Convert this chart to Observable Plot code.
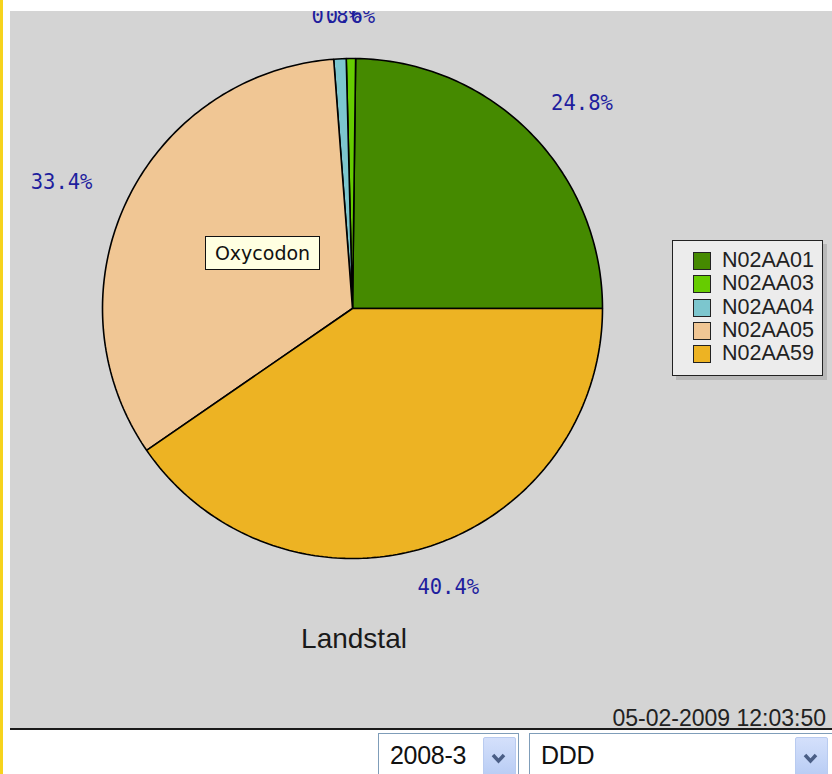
<!DOCTYPE html>
<html><head><meta charset="utf-8">
<script src="https://cdn.jsdelivr.net/npm/d3@7"></script>
<script src="https://cdn.jsdelivr.net/npm/@observablehq/plot@0.6"></script>
<style>
html,body{margin:0;padding:0;background:#fff;width:832px;height:774px;overflow:hidden;font-family:"Liberation Sans",Arial,sans-serif;position:relative;}
#ybar{position:absolute;left:0;top:0;width:3px;height:774px;background:#f6d31c;}
#panel{position:absolute;left:10px;top:11px;width:822px;height:717px;background:#d4d4d4;}
#panel svg{position:absolute;left:0;top:0;}
#rule{position:absolute;left:10px;top:728px;width:822px;height:2px;background:#1a1a1a;}
#title{position:absolute;left:0;width:688px;top:614px;text-align:center;font-size:28px;line-height:28px;color:#1a1a1a;}
#stamp{position:absolute;right:6px;top:697px;font-size:23px;line-height:20px;color:#222;}
#legend{position:absolute;left:662px;top:229px;width:149px;height:134px;background:#ececec;border:1px solid #222;box-shadow:4px 4px 0 #b8b8b8;}
.lrow{position:absolute;left:20px;height:19px;}
.lsw{position:absolute;left:0;top:0;width:16px;height:16px;border:1px solid #222;}
.ltx{position:absolute;left:29px;top:-2px;font-size:21.5px;line-height:21px;color:#222;white-space:nowrap;}
#tip{position:absolute;left:195px;top:225px;width:113px;height:32px;background:#ffffe1;border:1px solid #111;font-family:"DejaVu Sans",sans-serif;font-size:19px;line-height:32px;text-align:center;color:#111;}
.sel{position:absolute;top:733px;height:50px;border:1px solid #7f9db9;background:#fff;box-sizing:border-box;}
.sel .txt{position:absolute;left:11px;top:9px;font-size:25px;line-height:25px;color:#111;letter-spacing:-0.3px;}
.sel .btn{position:absolute;top:3px;width:31px;height:44px;border:1px solid #b9cbf0;border-radius:2px;background:linear-gradient(#d4e0fb,#b4c9f3);}
</style></head>
<body>
<div id="ybar"></div>
<div id="panel"></div>
<div id="rule"></div>
<div class="sel" id="sel1" style="left:378px;width:141px;"><div class="txt"></div><div class="btn" style="left:104px;"></div></div>
<div class="sel" id="sel2" style="left:529px;width:320px;"><div class="txt"></div><div class="btn" style="left:265px;"></div></div>
<script>
// ---- data ----
const keys = ["N02AA01", "N02AA03", "N02AA04", "N02AA05", "N02AA59"];
const shares = [24.8, 0.6, 0.8, 33.4, 40.4];
const labels = ["24.8%", "0.6%", "0.8%", "33.4%", "40.4%"];
const colors = ["#458a00", "#66cc00", "#7cc6ce", "#f0c694", "#edb323"];
const chartTitle = "Landstal";
const timestamp = "05-02-2009 12:03:50";
const tooltipText = "Oxycodon";
const periodOption = "2008-3";
const unitOption = "DDD";

// ---- geometry (anticlockwise from 3 o'clock) ----
const total = d3.sum(shares);
let acc = 0;
const slices = keys.map((k, i) => {
  const a0 = acc / total * 2 * Math.PI;
  acc += shares[i];
  const a1 = acc / total * 2 * Math.PI;
  return {key: k, a0, a1, label: labels[i], mid: (a0 + a1) / 2};
});
const pts = [];
for (const s of slices) {
  pts.push({key: s.key, x: 0, y: 0});
  const n = Math.max(2, Math.ceil((s.a1 - s.a0) / (Math.PI / 180)));
  for (let j = 0; j <= n; j++) {
    const a = s.a0 + (s.a1 - s.a0) * j / n;
    pts.push({key: s.key, x: Math.cos(a), y: Math.sin(a)});
  }
}
const labelPts = slices.map(s => ({label: s.label, x: 1.29 * Math.cos(s.mid), y: 1.17 * Math.sin(s.mid)}));

const cx = 342, cy = 297, R = 250;
const chart = Plot.plot({
  width: 822, height: 717, margin: 0,
  x: {axis: null, domain: [-1, 1], range: [cx - R, cx + R]},
  y: {axis: null, domain: [-1, 1], range: [cy + R, cy - R]},
  color: {domain: keys, range: colors},
  style: {background: "transparent", overflow: "hidden"},
  marks: [
    Plot.line(pts, {x: "x", y: "y", z: "key", fill: "key", stroke: "#000", strokeWidth: 1.6, curve: "linear-closed", strokeLinejoin: "miter"}),
    Plot.text(labelPts, {x: "x", y: "y", text: "label", fill: "#1e1e9e", fontFamily: "DejaVu Sans Mono, monospace", fontSize: 20.5, textAnchor: "middle", lineAnchor: "middle"})
  ]
});
const panel = document.getElementById("panel");
panel.appendChild(chart);

const t = document.createElement("div"); t.id = "title"; t.textContent = chartTitle; panel.appendChild(t);
const st = document.createElement("div"); st.id = "stamp"; st.textContent = timestamp; panel.appendChild(st);
const tip = document.createElement("div"); tip.id = "tip"; tip.textContent = tooltipText; panel.appendChild(tip);

const lg = document.createElement("div"); lg.id = "legend";
keys.forEach((k, i) => {
  const row = document.createElement("div"); row.className = "lrow"; row.style.top = (11 + i * 23.3) + "px";
  const sw = document.createElement("div"); sw.className = "lsw"; sw.style.background = colors[i];
  const tx = document.createElement("div"); tx.className = "ltx"; tx.textContent = k;
  row.appendChild(sw); row.appendChild(tx); lg.appendChild(row);
});
panel.appendChild(lg);

const chev = '<svg width="29" height="42" style="position:absolute;left:0;top:0"><polyline points="9,17 14.5,23 20,17" fill="none" stroke="#4a5e86" stroke-width="3.5"/></svg>';
document.querySelector("#sel1 .txt").textContent = periodOption;
document.querySelector("#sel2 .txt").textContent = unitOption;
document.querySelectorAll(".sel .btn").forEach(b => b.innerHTML = chev);
</script>
</body></html>
